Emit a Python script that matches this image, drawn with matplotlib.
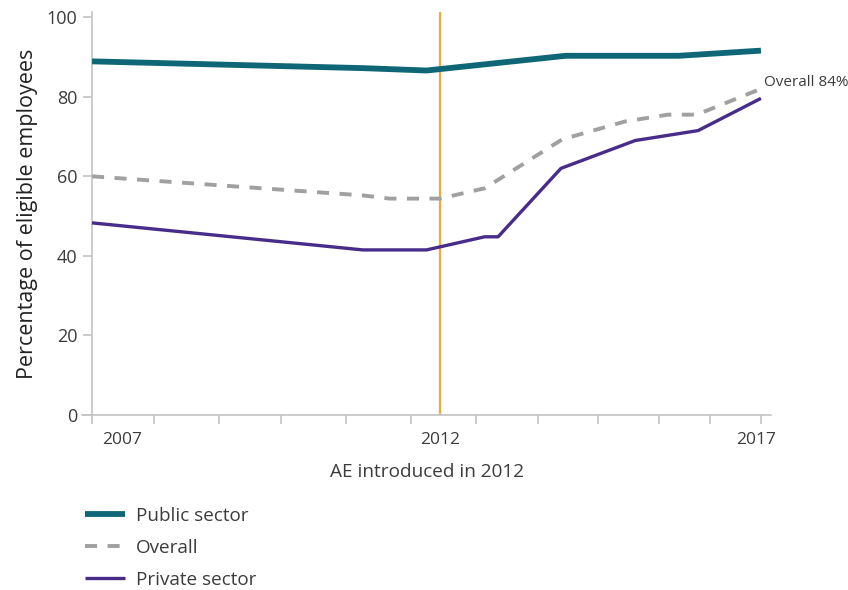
import matplotlib
matplotlib.use("Agg")
import matplotlib.pyplot as plt

plt.rcParams["font.family"] = ["Open Sans", "DejaVu Sans"]

# values (x in fractional years)
public_x = [2007, 2011.05, 2012.0, 2014.08, 2015.77, 2017]
public_y = [88.9, 87.2, 86.6, 90.3, 90.3, 91.6]

overall_x = [2007, 2011.05, 2011.45, 2012.2, 2012.87, 2014.03, 2014.97, 2015.61, 2016.04, 2017]
overall_y = [60.0, 55.2, 54.4, 54.4, 57.0, 69.3, 73.8, 75.5, 75.5, 82.0]

private_x = [2007, 2011.05, 2012.0, 2012.87, 2013.07, 2014.01, 2015.12, 2016.06, 2017]
private_y = [48.3, 41.5, 41.5, 44.8, 44.8, 62.0, 69.0, 71.5, 79.6]

ae_year = 2012.2
tick_marks = [2007, 2007.93, 2008.9, 2009.83, 2010.8, 2011.77, 2012.74,
              2013.67, 2014.56, 2015.48, 2016.24, 2017]
year_labels = ["2007", "2012", "2017"]
label_pos = [2007.45, 2012.2, 2016.93]
y_ticks = [0, 20, 40, 60, 80, 100]

TEXT = "#3c3c3c"
AXIS = "#c4c4c4"

fig = plt.figure(figsize=(8.48, 5.9), dpi=100)
ax = fig.add_axes([0.0967, 0.2966, 0.8125, 0.683])

ax.plot(public_x, public_y, color="#0f6677", lw=4.2, solid_capstyle="butt",
        label="Public sector", zorder=3)
ax.plot(overall_x, overall_y, color="#a0a0a0", lw=2.8, dashes=(3.1, 2.7),
        label="Overall", zorder=3)
ax.plot(private_x, private_y, color="#472c8a", lw=2.4, solid_capstyle="butt",
        label="Private sector", zorder=3)

ax.axvline(ae_year, color="#f7a737", lw=1.6, zorder=2)

ax.text(2017.04, overall_y[-1] + 1.5, "Overall 84%", fontsize=11, color=TEXT,
        ha="left", va="center", clip_on=False)

ax.set_xlim(2006.85, 2017.15)
ax.set_ylim(0, 101.3)

for s in ["top", "right"]:
    ax.spines[s].set_visible(False)
ax.spines["left"].set_position(("data", 2007))
ax.spines["left"].set_color(AXIS)
ax.spines["bottom"].set_color(AXIS)
ax.spines["left"].set_linewidth(1.2)
ax.spines["bottom"].set_linewidth(1.2)

ax.set_yticks(y_ticks)
ax.tick_params(axis="y", length=6.5, width=1.2, color=AXIS, pad=4,
               labelsize=13, labelcolor=TEXT)

ax.set_xticks(label_pos, year_labels)
ax.set_xticks(tick_marks, minor=True)
ax.tick_params(axis="x", which="major", length=0, pad=12, labelsize=12.5,
               labelcolor=TEXT)
ax.tick_params(axis="x", which="minor", length=6.5, width=1.2, color=AXIS)

ax.set_xlabel("AE introduced in 2012", fontsize=13.7, color=TEXT, labelpad=11)
ax.set_ylabel("Percentage of eligible employees", fontsize=15.5, color="#222222",
              labelpad=6)

fig.legend(loc="upper left", bbox_to_anchor=(0.08, 0.17), frameon=False,
           fontsize=13.6, handlelength=2.15, handletextpad=0.55,
           labelspacing=0.75, labelcolor=TEXT)

fig.savefig("out.png", dpi=100)
